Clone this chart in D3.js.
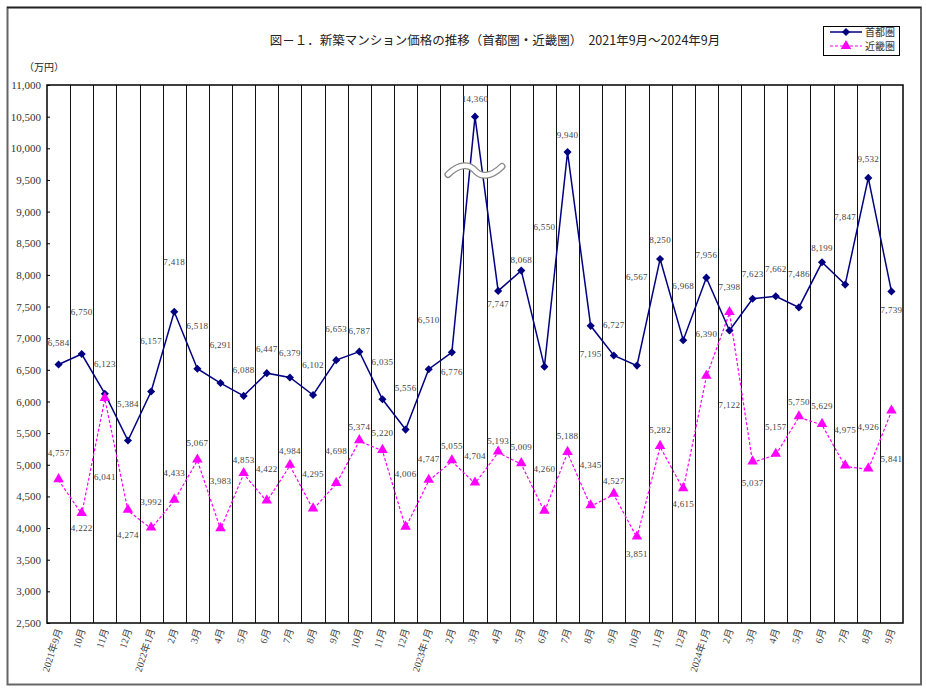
<!DOCTYPE html>
<html><head><meta charset="utf-8">
<script src="https://cdn.jsdelivr.net/npm/d3@7"></script>
<style>
body{margin:0;background:#fff;}
svg{display:block;}
</style></head>
<body><svg id="c" width="926" height="691"></svg>
<script>
// ---- data ----
const months = ["2021年9月","10月","11月","12月",
  "2022年1月","2月","3月","4月","5月","6月","7月","8月","9月","10月","11月","12月",
  "2023年1月","2月","3月","4月","5月","6月","7月","8月","9月","10月","11月","12月",
  "2024年1月","2月","3月","4月","5月","6月","7月","8月","9月"];
const shutoken = [6584,6750,6123,5384,
  6157,7418,6518,6291,6088,6447,6379,6102,6653,6787,6035,5556,
  6510,6776,14360,7747,8068,6550,9940,7195,6727,6567,8250,6968,
  7956,7122,7623,7662,7486,8199,7847,9532,7739];
const kinki = [4757,4222,6041,4274,
  3992,4433,5067,3983,4853,4422,4984,4295,4698,5374,5220,4006,
  4747,5055,4704,5193,5009,4260,5188,4345,4527,3851,5282,4615,
  6390,7398,5037,5157,5750,5629,4975,4926,5841];
const yTicks = [2500,3000,3500,4000,4500,5000,5500,6000,6500,7000,7500,8000,8500,9000,9500,10000,10500,11000];
const seriesNames = ["首都圏","近畿圏"];
const titleText = "図－１．新築マンション価格の推移（首都圏・近畿圏）　2021年9月～2024年9月";
const unitText = "（万円）";
const axisCap = 10500;     // values above this are drawn at the cap (axis break)
const breakValue = 9650;   // where the break symbol sits

// label placement offsets (px, vertical, relative to point)
const shutokenLabelDy = [-22,-42,-30,-37,-51,-50,-43,-38,-26,-24,-25,-30,-31,-21,-37,-42,
  -49,19,-18,13,-11,-140,-17,28,-31,-89,-19,-54,-23,74,-25,-27,-34,-14,-68,-19,18];
const kinkiLabelDy = [-27,14,78,24,-27,-28,-18,-48,-14,-32,-15,-36,-33,-14,-18,-54,
  -22,-15,-28,-12,-17,-43,-17,-41,-14,16,-17,15,-43,-26,20,-28,-15,-19,-36,-43,47];

// ---- layout ----
const svg = d3.select("#c");
const L = 47, R = 903, T = 85, B = 623;
const x = d3.scaleBand().domain(d3.range(months.length)).range([L, R]);
const y = d3.scaleLinear().domain([2500, 11000]).range([B, T]);
const cx = i => x(i) + x.bandwidth()/2;
const fmt = d3.format(",");
const serif = "'Liberation Serif','DejaVu Serif','Noto Sans CJK JP',serif";
const jp = "'Noto Sans CJK JP','Noto Sans',sans-serif";
const navy = "#000080", pink = "#ff00ff";

// outer frame
svg.append("rect").attr("x",7.5).attr("y",7.5).attr("width",913.5).attr("height",677)
  .attr("fill","none").attr("stroke","#666").attr("stroke-width",2);
svg.append("line").attr("x1",7).attr("x2",921).attr("y1",7.5).attr("y2",7.5).attr("stroke","#222").attr("stroke-width",1.5);

// title
svg.append("text").attr("x",495).attr("y",45).attr("text-anchor","middle")
  .attr("font-family",jp).attr("font-size",12.5).attr("fill","#222").text(titleText);
svg.append("text").attr("x",24).attr("y",71).attr("font-family",jp).attr("font-size",10)
  .attr("fill","#222").text(unitText);

// vertical separators
svg.append("g").selectAll("line").data(d3.range(1, months.length)).join("line")
  .attr("x1", i => Math.round(x(i))+0.5).attr("x2", i => Math.round(x(i))+0.5)
  .attr("y1", T).attr("y2", B).attr("stroke","#111").attr("stroke-width",1);

// plot frame
svg.append("rect").attr("x",L).attr("y",T).attr("width",R-L).attr("height",B-T)
  .attr("fill","none").attr("stroke","#000").attr("stroke-width",1.5);

// y axis
const yAxis = d3.axisLeft(y).tickValues(yTicks).tickSizeInner(-3).tickSizeOuter(0).tickPadding(6)
  .tickFormat(fmt);
const ga = svg.append("g").attr("transform",`translate(${L},0)`).call(yAxis);
ga.select(".domain").remove();
ga.selectAll(".tick line").attr("stroke","#000");
ga.selectAll(".tick text").attr("font-family",serif).attr("font-size",11).attr("fill","#333");

// x labels
svg.append("g").selectAll("text").data(months).join("text")
  .attr("transform",(d,i)=>`translate(${cx(i)+4},${630}) rotate(-72)`)
  .attr("text-anchor","end").attr("font-family",serif).attr("font-size",10)
  .attr("fill","#444").text(d=>d);

// lines
const plotV = v => Math.min(v, axisCap);
const line = d3.line().x((d,i)=>cx(i)).y(d=>y(plotV(d)));
svg.append("path").datum(shutoken).attr("d",line).attr("fill","none")
  .attr("stroke",navy).attr("stroke-width",1.5);
svg.append("path").datum(kinki).attr("d",line).attr("fill","none")
  .attr("stroke",pink).attr("stroke-width",1.2).attr("stroke-dasharray","3,2");

// axis break symbol
const bi = shutoken.indexOf(d3.max(shutoken));
const bx = cx(bi), by = y(breakValue);
const wave = `M${bx-27},${by+4} C${bx-15},${by-8} ${bx-5},${by-6} ${bx},${by} S${bx+15},${by+8} ${bx+27},${by-4}`;
svg.append("path").attr("d",wave).attr("fill","none").attr("stroke","#888").attr("stroke-width",7).attr("stroke-linecap","round");
svg.append("path").attr("d",wave).attr("fill","none").attr("stroke","#fff").attr("stroke-width",4.5).attr("stroke-linecap","round");

// markers
const diamond = d3.symbol().type(d3.symbolDiamond2).size(42);
const tri = d3.symbol().type(d3.symbolTriangle).size(48);
svg.append("g").selectAll("path").data(shutoken).join("path")
  .attr("d",diamond).attr("transform",(d,i)=>`translate(${cx(i)},${y(plotV(d))})`).attr("fill",navy);
svg.append("g").selectAll("path").data(kinki).join("path")
  .attr("d",tri).attr("transform",(d,i)=>`translate(${cx(i)},${y(plotV(d))-1})`).attr("fill",pink);

// data labels
function labels(data, dys){
  svg.append("g").selectAll("text").data(data).join("text")
    .attr("x",(d,i)=>cx(i)).attr("y",(d,i)=>y(plotV(d))+dys[i])
    .attr("dy","0.35em").attr("text-anchor","middle")
    .attr("font-family",serif).attr("font-size",9).attr("letter-spacing",0.3)
    .attr("fill","#444").text(d=>fmt(d));
}
labels(shutoken, shutokenLabelDy);
labels(kinki, kinkiLabelDy);

// legend
const lg = svg.append("g");
lg.append("rect").attr("x",823.5).attr("y",26.5).attr("width",76).attr("height",29)
  .attr("fill","#fff").attr("stroke","#000").attr("stroke-width",1);
[[navy,diamond,null,32],[pink,tri,"3,2",46]].forEach((s,k)=>{
  lg.append("line").attr("x1",830).attr("x2",862).attr("y1",s[3]).attr("y2",s[3])
    .attr("stroke",s[0]).attr("stroke-width",k?1.2:1.5).attr("stroke-dasharray",s[2]);
  lg.append("path").attr("d",s[1]).attr("transform",`translate(846,${s[3]})`).attr("fill",s[0]);
  lg.append("text").attr("x",865).attr("y",s[3]).attr("dy","0.35em").attr("font-family",jp)
    .attr("font-size",10).attr("fill","#333").text(seriesNames[k]);
});
</script></body></html>
